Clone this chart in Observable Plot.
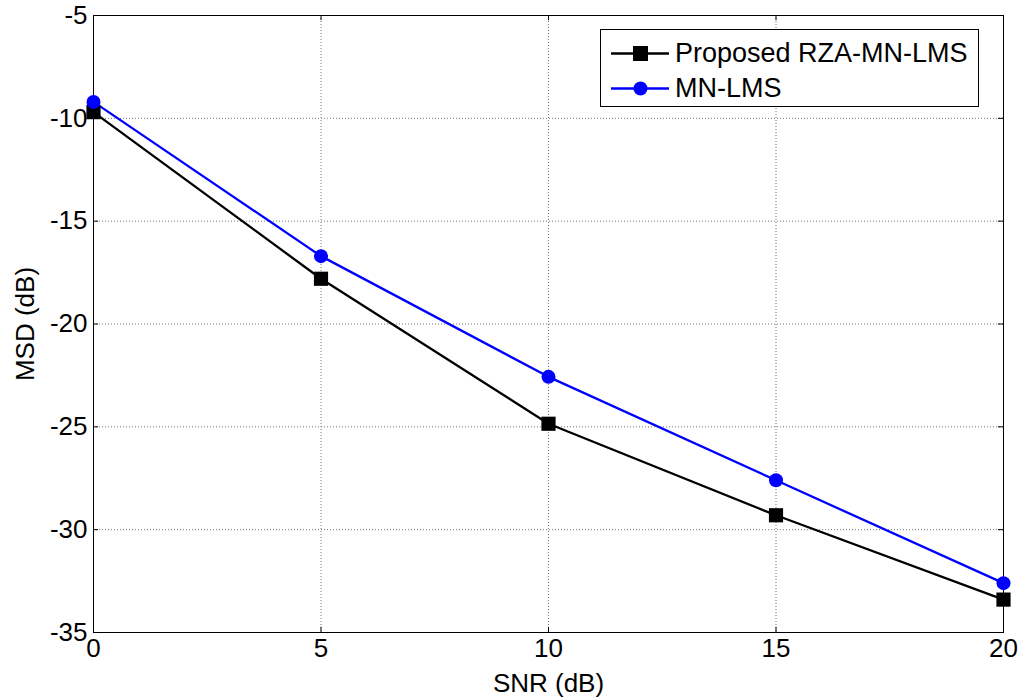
<!DOCTYPE html>
<html>
<head>
<meta charset="utf-8">
<script src="https://cdn.jsdelivr.net/npm/d3@7"></script>
<script src="https://cdn.jsdelivr.net/npm/@observablehq/plot@0.6"></script>
<style>
  body { margin: 0; background: #fff; font-family: "Liberation Sans", Arial, sans-serif; }
  #wrap { position: relative; width: 1022px; height: 700px; }
  #legend { position: absolute; left: 600px; top: 29px; width: 379px; height: 78px; border: 1px solid #000; background: #fff; box-sizing: border-box; font-size: 27px; }
  .row { position: absolute; left: 10px; height: 30px; display: flex; align-items: center; white-space: nowrap; }
  .row span { margin-left: 6px; }
</style>
</head>
<body>
<div id="wrap"></div>
<script>
const snr = [0, 5, 10, 15, 20];
const rzaMnLms = [-9.7, -17.8, -24.85, -29.3, -33.4];
const mnLms = [-9.2, -16.7, -22.57, -27.6, -32.6];
const xTicks = [0, 5, 10, 15, 20];
const yTicks = [-35, -30, -25, -20, -15, -10, -5];
const seriesNames = ["Proposed RZA-MN-LMS", "MN-LMS"];

const black = snr.map((x, i) => ({x, y: rzaMnLms[i]}));
const blue = snr.map((x, i) => ({x, y: mnLms[i]}));

const plot = Plot.plot({
  width: 1022,
  height: 700,
  marginLeft: 93,
  marginRight: 19,
  marginTop: 15,
  marginBottom: 68,
  style: {fontFamily: "Liberation Sans, Arial, sans-serif", fontSize: "26px", background: "#fff", color: "#000"},
  x: {domain: [0, 20], ticks: xTicks, label: null},
  y: {domain: [-35, -5], ticks: yTicks, label: null},
  marks: [
    Plot.ruleX(xTicks.slice(1, -1), {stroke: "#777", strokeDasharray: "1,2", strokeWidth: 1}),
    Plot.ruleY(yTicks.slice(1, -1), {stroke: "#777", strokeDasharray: "1,2", strokeWidth: 1}),
    // inward ticks (MATLAB style)
    Plot.ruleY(yTicks, {x1: 0, x2: 0.11, stroke: "#000"}),
    Plot.ruleY(yTicks, {x1: 19.89, x2: 20, stroke: "#000"}),
    Plot.ruleX(xTicks, {y1: -35, y2: -34.75, stroke: "#000"}),
    Plot.ruleX(xTicks, {y1: -5.25, y2: -5, stroke: "#000"}),
    Plot.frame({stroke: "#000", strokeWidth: 1}),
    Plot.axisX({ticks: xTicks, tickSize: 0, tickPadding: 6, fontSize: 26, label: null, tickFormat: d => String(d)}),
    Plot.axisY({ticks: yTicks, tickSize: 0, tickPadding: 6, fontSize: 26, label: null, tickFormat: d => String(d)}),
    Plot.line(blue, {x: "x", y: "y", stroke: "#0000ff", strokeWidth: 2.3}),
    Plot.line(black, {x: "x", y: "y", stroke: "#000", strokeWidth: 2.3}),
    Plot.dot(black, {x: "x", y: "y", symbol: "square", r: 8, fill: "#000", stroke: "none"}),
    Plot.dot(blue, {x: "x", y: "y", symbol: "circle", r: 7, fill: "#0000ff", stroke: "none"}),
    Plot.text(["SNR (dB)"], {frameAnchor: "bottom", lineAnchor: "middle", dy: 51, fontSize: 26, fill: "#000"}),
    Plot.text(["MSD (dB)"], {frameAnchor: "left", lineAnchor: "middle", textAnchor: "middle", dx: -68, rotate: -90, fontSize: 26, fill: "#000"})
  ]
});

const wrap = document.getElementById("wrap");
wrap.appendChild(plot);

const legend = document.createElement("div");
legend.id = "legend";
const colors = ["#000", "#0000ff"];
seriesNames.forEach((name, i) => {
  const row = document.createElement("div");
  row.className = "row";
  row.style.top = (8 + i * 35) + "px";
  const marker = i === 0
    ? `<rect x="22" y="7" width="15" height="15" fill="#000"/>`
    : `<circle cx="29.5" cy="14.5" r="7" fill="#0000ff"/>`;
  row.innerHTML = `<svg width="58" height="29"><line x1="0" y1="14.5" x2="58" y2="14.5" stroke="${colors[i]}" stroke-width="2.3"/>${marker}</svg><span>${name}</span>`;
  legend.appendChild(row);
});
wrap.appendChild(legend);
</script>
</body>
</html>
